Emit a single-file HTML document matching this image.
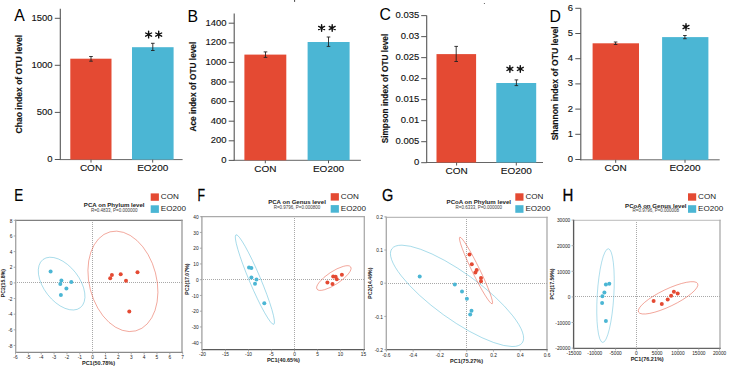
<!DOCTYPE html>
<html><head><meta charset="utf-8"><style>
html,body{margin:0;padding:0;background:#fff;}
svg{display:block;font-family:"Liberation Sans", sans-serif;}
</style></head><body>
<svg width="729" height="366" viewBox="0 0 729 366">
<rect width="729" height="366" fill="#fff"/>
<text x="14.20" y="21.30" font-size="15.8" text-anchor="start" font-weight="normal" fill="#000" >A</text>
<line x1="60.30" y1="8.70" x2="60.30" y2="160.10" stroke="#555" stroke-width="1.1" />
<line x1="59.80" y1="159.60" x2="182.60" y2="159.60" stroke="#666" stroke-width="1.0" />
<line x1="54.80" y1="159.50" x2="60.30" y2="159.50" stroke="#555" stroke-width="1" />
<text transform="translate(52.50,162.08) scale(1.1,1)" x="0" y="0" font-size="8.6" text-anchor="end" font-weight="normal" fill="#111" stroke="#111" stroke-width="0.12">0</text>
<line x1="54.80" y1="112.40" x2="60.30" y2="112.40" stroke="#555" stroke-width="1" />
<text transform="translate(52.50,114.98) scale(1.1,1)" x="0" y="0" font-size="8.6" text-anchor="end" font-weight="normal" fill="#111" stroke="#111" stroke-width="0.12">500</text>
<line x1="54.80" y1="65.30" x2="60.30" y2="65.30" stroke="#555" stroke-width="1" />
<text transform="translate(52.50,67.88) scale(1.1,1)" x="0" y="0" font-size="8.6" text-anchor="end" font-weight="normal" fill="#111" stroke="#111" stroke-width="0.12">1000</text>
<line x1="54.80" y1="18.30" x2="60.30" y2="18.30" stroke="#555" stroke-width="1" />
<text transform="translate(52.50,20.88) scale(1.1,1)" x="0" y="0" font-size="8.6" text-anchor="end" font-weight="normal" fill="#111" stroke="#111" stroke-width="0.12">1500</text>
<rect x="70.30" y="58.70" width="41.20" height="100.90" fill="#E44A33"/>
<rect x="132.00" y="47.20" width="41.60" height="112.40" fill="#4BB6D4"/>
<line x1="91.00" y1="56.50" x2="91.00" y2="61.20" stroke="#222" stroke-width="0.9" />
<line x1="89.20" y1="56.50" x2="92.80" y2="56.50" stroke="#222" stroke-width="0.9" />
<line x1="89.20" y1="61.20" x2="92.80" y2="61.20" stroke="#222" stroke-width="0.9" />
<line x1="152.80" y1="43.30" x2="152.80" y2="50.50" stroke="#222" stroke-width="0.9" />
<line x1="151.00" y1="43.30" x2="154.60" y2="43.30" stroke="#222" stroke-width="0.9" />
<line x1="151.00" y1="50.50" x2="154.60" y2="50.50" stroke="#222" stroke-width="0.9" />
<line x1="91.00" y1="159.60" x2="91.00" y2="162.60" stroke="#555" stroke-width="1" />
<text transform="translate(91.00,171.30) scale(1.1,1)" x="0" y="0" font-size="9.1" text-anchor="middle" font-weight="normal" fill="#111" stroke="#111" stroke-width="0.12">CON</text>
<line x1="152.70" y1="159.60" x2="152.70" y2="162.60" stroke="#555" stroke-width="1" />
<text transform="translate(152.70,171.30) scale(1.1,1)" x="0" y="0" font-size="9.1" text-anchor="middle" font-weight="normal" fill="#111" stroke="#111" stroke-width="0.12">EO200</text>
<path d="M148.60 31.30V37.90M145.65 33.00L151.55 36.20M145.65 36.20L151.55 33.00" stroke="#111" stroke-width="1.4" stroke-linecap="round" fill="none"/>
<circle cx="148.60" cy="34.60" r="1.4" fill="#111"/>
<path d="M158.70 31.30V37.90M155.75 33.00L161.65 36.20M155.75 36.20L161.65 33.00" stroke="#111" stroke-width="1.4" stroke-linecap="round" fill="none"/>
<circle cx="158.70" cy="34.60" r="1.4" fill="#111"/>
<text transform="translate(22.30,84.15) rotate(-90) scale(1,1.05)" x="0" y="0" font-size="8.6" text-anchor="middle" font-weight="bold" fill="#111" stroke="#111" stroke-width="0.12">Chao index of OTU level</text>
<text x="187.40" y="21.90" font-size="15.8" text-anchor="start" font-weight="normal" fill="#000" >B</text>
<line x1="234.20" y1="13.50" x2="234.20" y2="160.80" stroke="#555" stroke-width="1.1" />
<line x1="233.70" y1="160.30" x2="360.90" y2="160.30" stroke="#666" stroke-width="1.0" />
<line x1="228.70" y1="160.40" x2="234.20" y2="160.40" stroke="#555" stroke-width="1" />
<text transform="translate(226.50,162.98) scale(1.1,1)" x="0" y="0" font-size="8.6" text-anchor="end" font-weight="normal" fill="#111" stroke="#111" stroke-width="0.12">0</text>
<line x1="228.70" y1="140.80" x2="234.20" y2="140.80" stroke="#555" stroke-width="1" />
<text transform="translate(226.50,143.38) scale(1.1,1)" x="0" y="0" font-size="8.6" text-anchor="end" font-weight="normal" fill="#111" stroke="#111" stroke-width="0.12">200</text>
<line x1="228.70" y1="121.20" x2="234.20" y2="121.20" stroke="#555" stroke-width="1" />
<text transform="translate(226.50,123.78) scale(1.1,1)" x="0" y="0" font-size="8.6" text-anchor="end" font-weight="normal" fill="#111" stroke="#111" stroke-width="0.12">400</text>
<line x1="228.70" y1="101.60" x2="234.20" y2="101.60" stroke="#555" stroke-width="1" />
<text transform="translate(226.50,104.18) scale(1.1,1)" x="0" y="0" font-size="8.6" text-anchor="end" font-weight="normal" fill="#111" stroke="#111" stroke-width="0.12">600</text>
<line x1="228.70" y1="82.00" x2="234.20" y2="82.00" stroke="#555" stroke-width="1" />
<text transform="translate(226.50,84.58) scale(1.1,1)" x="0" y="0" font-size="8.6" text-anchor="end" font-weight="normal" fill="#111" stroke="#111" stroke-width="0.12">800</text>
<line x1="228.70" y1="62.40" x2="234.20" y2="62.40" stroke="#555" stroke-width="1" />
<text transform="translate(226.50,64.98) scale(1.1,1)" x="0" y="0" font-size="8.6" text-anchor="end" font-weight="normal" fill="#111" stroke="#111" stroke-width="0.12">1000</text>
<line x1="228.70" y1="42.80" x2="234.20" y2="42.80" stroke="#555" stroke-width="1" />
<text transform="translate(226.50,45.38) scale(1.1,1)" x="0" y="0" font-size="8.6" text-anchor="end" font-weight="normal" fill="#111" stroke="#111" stroke-width="0.12">1200</text>
<line x1="228.70" y1="23.20" x2="234.20" y2="23.20" stroke="#555" stroke-width="1" />
<text transform="translate(226.50,25.78) scale(1.1,1)" x="0" y="0" font-size="8.6" text-anchor="end" font-weight="normal" fill="#111" stroke="#111" stroke-width="0.12">1400</text>
<rect x="244.40" y="54.60" width="41.90" height="105.70" fill="#E44A33"/>
<rect x="307.60" y="42.00" width="42.00" height="118.30" fill="#4BB6D4"/>
<line x1="265.50" y1="51.90" x2="265.50" y2="57.40" stroke="#222" stroke-width="0.9" />
<line x1="263.70" y1="51.90" x2="267.30" y2="51.90" stroke="#222" stroke-width="0.9" />
<line x1="263.70" y1="57.40" x2="267.30" y2="57.40" stroke="#222" stroke-width="0.9" />
<line x1="328.50" y1="37.00" x2="328.50" y2="46.40" stroke="#222" stroke-width="0.9" />
<line x1="326.70" y1="37.00" x2="330.30" y2="37.00" stroke="#222" stroke-width="0.9" />
<line x1="326.70" y1="46.40" x2="330.30" y2="46.40" stroke="#222" stroke-width="0.9" />
<line x1="265.30" y1="160.30" x2="265.30" y2="163.30" stroke="#555" stroke-width="1" />
<text transform="translate(265.30,171.60) scale(1.1,1)" x="0" y="0" font-size="9.1" text-anchor="middle" font-weight="normal" fill="#111" stroke="#111" stroke-width="0.12">CON</text>
<line x1="328.50" y1="160.30" x2="328.50" y2="163.30" stroke="#555" stroke-width="1" />
<text transform="translate(328.50,171.60) scale(1.1,1)" x="0" y="0" font-size="9.1" text-anchor="middle" font-weight="normal" fill="#111" stroke="#111" stroke-width="0.12">EO200</text>
<path d="M321.60 24.70V31.30M318.65 26.40L324.55 29.60M318.65 29.60L324.55 26.40" stroke="#111" stroke-width="1.4" stroke-linecap="round" fill="none"/>
<circle cx="321.60" cy="28.00" r="1.4" fill="#111"/>
<path d="M332.20 24.70V31.30M329.25 26.40L335.15 29.60M329.25 29.60L335.15 26.40" stroke="#111" stroke-width="1.4" stroke-linecap="round" fill="none"/>
<circle cx="332.20" cy="28.00" r="1.4" fill="#111"/>
<text transform="translate(195.80,86.65) rotate(-90) scale(1,1.05)" x="0" y="0" font-size="8.3" text-anchor="middle" font-weight="bold" fill="#111" stroke="#111" stroke-width="0.12">Ace index of OTU level</text>
<text x="379.40" y="19.90" font-size="15.8" text-anchor="start" font-weight="normal" fill="#000" >C</text>
<line x1="426.70" y1="15.60" x2="426.70" y2="163.00" stroke="#555" stroke-width="1.1" />
<line x1="426.20" y1="162.50" x2="543.00" y2="162.50" stroke="#666" stroke-width="1.0" />
<line x1="421.20" y1="162.70" x2="426.70" y2="162.70" stroke="#555" stroke-width="1" />
<text transform="translate(419.20,165.28) scale(1.1,1)" x="0" y="0" font-size="8.6" text-anchor="end" font-weight="normal" fill="#111" stroke="#111" stroke-width="0.12">0</text>
<line x1="421.20" y1="141.69" x2="426.70" y2="141.69" stroke="#555" stroke-width="1" />
<text transform="translate(419.20,144.27) scale(1.1,1)" x="0" y="0" font-size="8.6" text-anchor="end" font-weight="normal" fill="#111" stroke="#111" stroke-width="0.12">0.005</text>
<line x1="421.20" y1="120.68" x2="426.70" y2="120.68" stroke="#555" stroke-width="1" />
<text transform="translate(419.20,123.26) scale(1.1,1)" x="0" y="0" font-size="8.6" text-anchor="end" font-weight="normal" fill="#111" stroke="#111" stroke-width="0.12">0.01</text>
<line x1="421.20" y1="99.67" x2="426.70" y2="99.67" stroke="#555" stroke-width="1" />
<text transform="translate(419.20,102.25) scale(1.1,1)" x="0" y="0" font-size="8.6" text-anchor="end" font-weight="normal" fill="#111" stroke="#111" stroke-width="0.12">0.015</text>
<line x1="421.20" y1="78.66" x2="426.70" y2="78.66" stroke="#555" stroke-width="1" />
<text transform="translate(419.20,81.24) scale(1.1,1)" x="0" y="0" font-size="8.6" text-anchor="end" font-weight="normal" fill="#111" stroke="#111" stroke-width="0.12">0.02</text>
<line x1="421.20" y1="57.65" x2="426.70" y2="57.65" stroke="#555" stroke-width="1" />
<text transform="translate(419.20,60.23) scale(1.1,1)" x="0" y="0" font-size="8.6" text-anchor="end" font-weight="normal" fill="#111" stroke="#111" stroke-width="0.12">0.025</text>
<line x1="421.20" y1="36.64" x2="426.70" y2="36.64" stroke="#555" stroke-width="1" />
<text transform="translate(419.20,39.22) scale(1.1,1)" x="0" y="0" font-size="8.6" text-anchor="end" font-weight="normal" fill="#111" stroke="#111" stroke-width="0.12">0.03</text>
<line x1="421.20" y1="15.63" x2="426.70" y2="15.63" stroke="#555" stroke-width="1" />
<text transform="translate(419.20,18.21) scale(1.1,1)" x="0" y="0" font-size="8.6" text-anchor="end" font-weight="normal" fill="#111" stroke="#111" stroke-width="0.12">0.035</text>
<rect x="436.50" y="54.10" width="39.60" height="108.40" fill="#E44A33"/>
<rect x="496.30" y="83.00" width="39.90" height="79.50" fill="#4BB6D4"/>
<line x1="456.20" y1="46.40" x2="456.20" y2="61.50" stroke="#222" stroke-width="0.9" />
<line x1="454.40" y1="46.40" x2="458.00" y2="46.40" stroke="#222" stroke-width="0.9" />
<line x1="454.40" y1="61.50" x2="458.00" y2="61.50" stroke="#222" stroke-width="0.9" />
<line x1="516.40" y1="79.90" x2="516.40" y2="85.60" stroke="#222" stroke-width="0.9" />
<line x1="514.60" y1="79.90" x2="518.20" y2="79.90" stroke="#222" stroke-width="0.9" />
<line x1="514.60" y1="85.60" x2="518.20" y2="85.60" stroke="#222" stroke-width="0.9" />
<line x1="456.60" y1="162.50" x2="456.60" y2="165.50" stroke="#555" stroke-width="1" />
<text transform="translate(456.60,174.30) scale(1.1,1)" x="0" y="0" font-size="9.1" text-anchor="middle" font-weight="normal" fill="#111" stroke="#111" stroke-width="0.12">CON</text>
<line x1="516.30" y1="162.50" x2="516.30" y2="165.50" stroke="#555" stroke-width="1" />
<text transform="translate(516.30,174.30) scale(1.1,1)" x="0" y="0" font-size="9.1" text-anchor="middle" font-weight="normal" fill="#111" stroke="#111" stroke-width="0.12">EO200</text>
<path d="M509.90 65.60V72.20M506.95 67.30L512.85 70.50M506.95 70.50L512.85 67.30" stroke="#111" stroke-width="1.4" stroke-linecap="round" fill="none"/>
<circle cx="509.90" cy="68.90" r="1.4" fill="#111"/>
<path d="M520.30 65.60V72.20M517.35 67.30L523.25 70.50M517.35 70.50L523.25 67.30" stroke="#111" stroke-width="1.4" stroke-linecap="round" fill="none"/>
<circle cx="520.30" cy="68.90" r="1.4" fill="#111"/>
<text transform="translate(387.80,88.55) rotate(-90) scale(1,1.05)" x="0" y="0" font-size="8.3" text-anchor="middle" font-weight="bold" fill="#111" stroke="#111" stroke-width="0.12">Simpson index of OTU level</text>
<text x="549.60" y="21.90" font-size="15.8" text-anchor="start" font-weight="normal" fill="#000" >D</text>
<line x1="580.80" y1="8.20" x2="580.80" y2="160.30" stroke="#555" stroke-width="1.1" />
<line x1="580.30" y1="159.80" x2="719.70" y2="159.80" stroke="#666" stroke-width="1.0" />
<line x1="575.30" y1="159.50" x2="580.80" y2="159.50" stroke="#555" stroke-width="1" />
<text transform="translate(573.00,162.08) scale(1.1,1)" x="0" y="0" font-size="8.6" text-anchor="end" font-weight="normal" fill="#111" stroke="#111" stroke-width="0.12">0</text>
<line x1="575.30" y1="134.30" x2="580.80" y2="134.30" stroke="#555" stroke-width="1" />
<text transform="translate(573.00,136.88) scale(1.1,1)" x="0" y="0" font-size="8.6" text-anchor="end" font-weight="normal" fill="#111" stroke="#111" stroke-width="0.12">1</text>
<line x1="575.30" y1="109.10" x2="580.80" y2="109.10" stroke="#555" stroke-width="1" />
<text transform="translate(573.00,111.68) scale(1.1,1)" x="0" y="0" font-size="8.6" text-anchor="end" font-weight="normal" fill="#111" stroke="#111" stroke-width="0.12">2</text>
<line x1="575.30" y1="83.90" x2="580.80" y2="83.90" stroke="#555" stroke-width="1" />
<text transform="translate(573.00,86.48) scale(1.1,1)" x="0" y="0" font-size="8.6" text-anchor="end" font-weight="normal" fill="#111" stroke="#111" stroke-width="0.12">3</text>
<line x1="575.30" y1="58.70" x2="580.80" y2="58.70" stroke="#555" stroke-width="1" />
<text transform="translate(573.00,61.28) scale(1.1,1)" x="0" y="0" font-size="8.6" text-anchor="end" font-weight="normal" fill="#111" stroke="#111" stroke-width="0.12">4</text>
<line x1="575.30" y1="33.50" x2="580.80" y2="33.50" stroke="#555" stroke-width="1" />
<text transform="translate(573.00,36.08) scale(1.1,1)" x="0" y="0" font-size="8.6" text-anchor="end" font-weight="normal" fill="#111" stroke="#111" stroke-width="0.12">5</text>
<line x1="575.30" y1="8.30" x2="580.80" y2="8.30" stroke="#555" stroke-width="1" />
<text transform="translate(573.00,10.88) scale(1.1,1)" x="0" y="0" font-size="8.6" text-anchor="end" font-weight="normal" fill="#111" stroke="#111" stroke-width="0.12">6</text>
<rect x="592.60" y="43.30" width="46.40" height="116.50" fill="#E44A33"/>
<rect x="662.10" y="37.10" width="46.30" height="122.70" fill="#4BB6D4"/>
<line x1="615.60" y1="42.00" x2="615.60" y2="44.50" stroke="#222" stroke-width="0.9" />
<line x1="613.80" y1="42.00" x2="617.40" y2="42.00" stroke="#222" stroke-width="0.9" />
<line x1="613.80" y1="44.50" x2="617.40" y2="44.50" stroke="#222" stroke-width="0.9" />
<line x1="684.90" y1="35.50" x2="684.90" y2="38.70" stroke="#222" stroke-width="0.9" />
<line x1="683.10" y1="35.50" x2="686.70" y2="35.50" stroke="#222" stroke-width="0.9" />
<line x1="683.10" y1="38.70" x2="686.70" y2="38.70" stroke="#222" stroke-width="0.9" />
<line x1="615.70" y1="159.80" x2="615.70" y2="162.80" stroke="#555" stroke-width="1" />
<text transform="translate(615.70,171.30) scale(1.1,1)" x="0" y="0" font-size="9.1" text-anchor="middle" font-weight="normal" fill="#111" stroke="#111" stroke-width="0.12">CON</text>
<line x1="685.00" y1="159.80" x2="685.00" y2="162.80" stroke="#555" stroke-width="1" />
<text transform="translate(685.00,171.30) scale(1.1,1)" x="0" y="0" font-size="9.1" text-anchor="middle" font-weight="normal" fill="#111" stroke="#111" stroke-width="0.12">EO200</text>
<path d="M686.00 23.70V30.30M683.05 25.40L688.95 28.60M683.05 28.60L688.95 25.40" stroke="#111" stroke-width="1.4" stroke-linecap="round" fill="none"/>
<circle cx="686.00" cy="27.00" r="1.4" fill="#111"/>
<text transform="translate(558.20,83.40) rotate(-90) scale(1,1.05)" x="0" y="0" font-size="8.6" text-anchor="middle" font-weight="bold" fill="#111" stroke="#111" stroke-width="0.12">Shannon index of OTU level</text>
<text transform="translate(14.20,201.00) scale(0.85,1)" x="0" y="0" font-size="15.8" text-anchor="start" font-weight="normal" fill="#000" stroke="#000" stroke-width="0.25">E</text>
<line x1="92.50" y1="220.00" x2="92.50" y2="352.40" stroke="#a8a8a8" stroke-width="1" stroke-dasharray="1 1"/>
<line x1="15.00" y1="282.50" x2="182.00" y2="282.50" stroke="#a8a8a8" stroke-width="1" stroke-dasharray="1 1"/>
<line x1="15.10" y1="220.30" x2="182.60" y2="220.30" stroke="#808080" stroke-width="1.3" />
<line x1="182.00" y1="219.70" x2="182.00" y2="353.00" stroke="#999" stroke-width="1.3" />
<line x1="15.10" y1="352.40" x2="182.60" y2="352.40" stroke="#8a8a8a" stroke-width="1.25" />
<line x1="15.70" y1="219.70" x2="15.70" y2="353.00" stroke="#a4a4a4" stroke-width="1.35" />
<line x1="13.70" y1="220.34" x2="15.70" y2="220.34" stroke="#999" stroke-width="0.8" />
<text x="12.40" y="222.54" font-size="4.8" text-anchor="end" font-weight="normal" fill="#222" >8</text>
<line x1="13.70" y1="235.98" x2="15.70" y2="235.98" stroke="#999" stroke-width="0.8" />
<text x="12.40" y="238.18" font-size="4.8" text-anchor="end" font-weight="normal" fill="#222" >6</text>
<line x1="13.70" y1="251.62" x2="15.70" y2="251.62" stroke="#999" stroke-width="0.8" />
<text x="12.40" y="253.82" font-size="4.8" text-anchor="end" font-weight="normal" fill="#222" >4</text>
<line x1="13.70" y1="267.26" x2="15.70" y2="267.26" stroke="#999" stroke-width="0.8" />
<text x="12.40" y="269.46" font-size="4.8" text-anchor="end" font-weight="normal" fill="#222" >2</text>
<line x1="13.70" y1="282.90" x2="15.70" y2="282.90" stroke="#999" stroke-width="0.8" />
<text x="12.40" y="285.10" font-size="4.8" text-anchor="end" font-weight="normal" fill="#222" >0</text>
<line x1="13.70" y1="298.54" x2="15.70" y2="298.54" stroke="#999" stroke-width="0.8" />
<text x="12.40" y="300.74" font-size="4.8" text-anchor="end" font-weight="normal" fill="#222" >-2</text>
<line x1="13.70" y1="314.18" x2="15.70" y2="314.18" stroke="#999" stroke-width="0.8" />
<text x="12.40" y="316.38" font-size="4.8" text-anchor="end" font-weight="normal" fill="#222" >-4</text>
<line x1="13.70" y1="329.82" x2="15.70" y2="329.82" stroke="#999" stroke-width="0.8" />
<text x="12.40" y="332.02" font-size="4.8" text-anchor="end" font-weight="normal" fill="#222" >-6</text>
<line x1="13.70" y1="345.46" x2="15.70" y2="345.46" stroke="#999" stroke-width="0.8" />
<text x="12.40" y="347.66" font-size="4.8" text-anchor="end" font-weight="normal" fill="#222" >-8</text>
<line x1="15.50" y1="352.40" x2="15.50" y2="354.40" stroke="#999" stroke-width="0.8" />
<text x="15.50" y="359.20" font-size="4.8" text-anchor="middle" font-weight="normal" fill="#222" >-6</text>
<line x1="28.36" y1="352.40" x2="28.36" y2="354.40" stroke="#999" stroke-width="0.8" />
<text x="28.36" y="359.20" font-size="4.8" text-anchor="middle" font-weight="normal" fill="#222" >-5</text>
<line x1="41.22" y1="352.40" x2="41.22" y2="354.40" stroke="#999" stroke-width="0.8" />
<text x="41.22" y="359.20" font-size="4.8" text-anchor="middle" font-weight="normal" fill="#222" >-4</text>
<line x1="54.08" y1="352.40" x2="54.08" y2="354.40" stroke="#999" stroke-width="0.8" />
<text x="54.08" y="359.20" font-size="4.8" text-anchor="middle" font-weight="normal" fill="#222" >-3</text>
<line x1="66.94" y1="352.40" x2="66.94" y2="354.40" stroke="#999" stroke-width="0.8" />
<text x="66.94" y="359.20" font-size="4.8" text-anchor="middle" font-weight="normal" fill="#222" >-2</text>
<line x1="79.80" y1="352.40" x2="79.80" y2="354.40" stroke="#999" stroke-width="0.8" />
<text x="79.80" y="359.20" font-size="4.8" text-anchor="middle" font-weight="normal" fill="#222" >-1</text>
<line x1="92.66" y1="352.40" x2="92.66" y2="354.40" stroke="#999" stroke-width="0.8" />
<text x="92.66" y="359.20" font-size="4.8" text-anchor="middle" font-weight="normal" fill="#222" >0</text>
<line x1="105.52" y1="352.40" x2="105.52" y2="354.40" stroke="#999" stroke-width="0.8" />
<text x="105.52" y="359.20" font-size="4.8" text-anchor="middle" font-weight="normal" fill="#222" >1</text>
<line x1="118.38" y1="352.40" x2="118.38" y2="354.40" stroke="#999" stroke-width="0.8" />
<text x="118.38" y="359.20" font-size="4.8" text-anchor="middle" font-weight="normal" fill="#222" >2</text>
<line x1="131.24" y1="352.40" x2="131.24" y2="354.40" stroke="#999" stroke-width="0.8" />
<text x="131.24" y="359.20" font-size="4.8" text-anchor="middle" font-weight="normal" fill="#222" >3</text>
<line x1="144.10" y1="352.40" x2="144.10" y2="354.40" stroke="#999" stroke-width="0.8" />
<text x="144.10" y="359.20" font-size="4.8" text-anchor="middle" font-weight="normal" fill="#222" >4</text>
<line x1="156.96" y1="352.40" x2="156.96" y2="354.40" stroke="#999" stroke-width="0.8" />
<text x="156.96" y="359.20" font-size="4.8" text-anchor="middle" font-weight="normal" fill="#222" >5</text>
<line x1="169.82" y1="352.40" x2="169.82" y2="354.40" stroke="#999" stroke-width="0.8" />
<text x="169.82" y="359.20" font-size="4.8" text-anchor="middle" font-weight="normal" fill="#222" >6</text>
<line x1="182.68" y1="352.40" x2="182.68" y2="354.40" stroke="#999" stroke-width="0.8" />
<text x="182.68" y="359.20" font-size="4.8" text-anchor="middle" font-weight="normal" fill="#222" >7</text>
<ellipse cx="61.62" cy="283.62" rx="30.45" ry="17.73" transform="rotate(52.15 61.62 283.62)" fill="none" stroke="#4BB6D4" stroke-width="0.55" stroke-opacity="0.8"/>
<ellipse cx="122.92" cy="281.35" rx="51.16" ry="33.63" transform="rotate(75.43 122.92 281.35)" fill="none" stroke="#E44A33" stroke-width="0.55" stroke-opacity="0.8"/>
<circle cx="111.90" cy="274.90" r="2" fill="#E44A33"/>
<circle cx="110.20" cy="278.20" r="2" fill="#E44A33"/>
<circle cx="120.70" cy="274.30" r="2" fill="#E44A33"/>
<circle cx="126.00" cy="280.80" r="2" fill="#E44A33"/>
<circle cx="137.50" cy="272.30" r="2" fill="#E44A33"/>
<circle cx="129.30" cy="311.40" r="2" fill="#E44A33"/>
<circle cx="50.60" cy="271.60" r="2" fill="#4BB6D4"/>
<circle cx="61.40" cy="280.60" r="2" fill="#4BB6D4"/>
<circle cx="60.30" cy="284.00" r="2" fill="#4BB6D4"/>
<circle cx="71.30" cy="282.00" r="2" fill="#4BB6D4"/>
<circle cx="66.40" cy="288.40" r="2" fill="#4BB6D4"/>
<circle cx="60.90" cy="295.10" r="2" fill="#4BB6D4"/>
<text x="114.20" y="207.10" font-size="6.1" text-anchor="middle" font-weight="bold" fill="#222" >PCA on Phylum level</text>
<text x="114.20" y="212.30" font-size="4.5" text-anchor="middle" font-weight="normal" fill="#3a3a3a" >R=0.4833, P=0.000000</text>
<rect x="150.70" y="193.40" width="8.20" height="7.40" fill="#E44A33"/>
<rect x="150.70" y="205.30" width="8.20" height="7.60" fill="#4BB6D4"/>
<text x="160.80" y="199.40" font-size="8.1" text-anchor="start" font-weight="normal" fill="#222" >CON</text>
<text x="160.80" y="211.40" font-size="8.1" text-anchor="start" font-weight="normal" fill="#222" >EO200</text>
<text x="98.50" y="365.10" font-size="5.5" text-anchor="middle" font-weight="bold" fill="#222" >PC1(50.78%)</text>
<text transform="translate(5.20,283.10) rotate(-90)" x="0" y="0" font-size="5.2" text-anchor="middle" font-weight="bold" fill="#222">PC2(15.8%)</text>
<text transform="translate(197.60,200.90) scale(0.78,1)" x="0" y="0" font-size="15.8" text-anchor="start" font-weight="normal" fill="#000" stroke="#000" stroke-width="0.25">F</text>
<line x1="294.50" y1="216.00" x2="294.50" y2="349.50" stroke="#a8a8a8" stroke-width="1" stroke-dasharray="1 1"/>
<line x1="201.00" y1="279.50" x2="364.30" y2="279.50" stroke="#a8a8a8" stroke-width="1" stroke-dasharray="1 1"/>
<line x1="201.30" y1="216.70" x2="364.90" y2="216.70" stroke="#aaa" stroke-width="1.3" />
<line x1="364.30" y1="216.10" x2="364.30" y2="350.10" stroke="#aaa" stroke-width="1.3" />
<line x1="201.30" y1="349.50" x2="364.90" y2="349.50" stroke="#5a5a5a" stroke-width="1.25" />
<line x1="201.90" y1="216.10" x2="201.90" y2="350.10" stroke="#a4a4a4" stroke-width="1.35" />
<line x1="199.90" y1="216.70" x2="201.90" y2="216.70" stroke="#999" stroke-width="0.8" />
<text x="198.60" y="218.90" font-size="4.8" text-anchor="end" font-weight="normal" fill="#222" >40</text>
<line x1="199.90" y1="232.45" x2="201.90" y2="232.45" stroke="#999" stroke-width="0.8" />
<text x="198.60" y="234.65" font-size="4.8" text-anchor="end" font-weight="normal" fill="#222" >30</text>
<line x1="199.90" y1="248.20" x2="201.90" y2="248.20" stroke="#999" stroke-width="0.8" />
<text x="198.60" y="250.40" font-size="4.8" text-anchor="end" font-weight="normal" fill="#222" >20</text>
<line x1="199.90" y1="263.95" x2="201.90" y2="263.95" stroke="#999" stroke-width="0.8" />
<text x="198.60" y="266.15" font-size="4.8" text-anchor="end" font-weight="normal" fill="#222" >10</text>
<line x1="199.90" y1="279.70" x2="201.90" y2="279.70" stroke="#999" stroke-width="0.8" />
<text x="198.60" y="281.90" font-size="4.8" text-anchor="end" font-weight="normal" fill="#222" >0</text>
<line x1="199.90" y1="295.45" x2="201.90" y2="295.45" stroke="#999" stroke-width="0.8" />
<text x="198.60" y="297.65" font-size="4.8" text-anchor="end" font-weight="normal" fill="#222" >-10</text>
<line x1="199.90" y1="311.20" x2="201.90" y2="311.20" stroke="#999" stroke-width="0.8" />
<text x="198.60" y="313.40" font-size="4.8" text-anchor="end" font-weight="normal" fill="#222" >-20</text>
<line x1="199.90" y1="326.95" x2="201.90" y2="326.95" stroke="#999" stroke-width="0.8" />
<text x="198.60" y="329.15" font-size="4.8" text-anchor="end" font-weight="normal" fill="#222" >-30</text>
<line x1="199.90" y1="342.70" x2="201.90" y2="342.70" stroke="#999" stroke-width="0.8" />
<text x="198.60" y="344.90" font-size="4.8" text-anchor="end" font-weight="normal" fill="#222" >-40</text>
<line x1="202.50" y1="349.50" x2="202.50" y2="351.50" stroke="#999" stroke-width="0.8" />
<text x="202.50" y="356.30" font-size="4.8" text-anchor="middle" font-weight="normal" fill="#222" >-20</text>
<line x1="225.50" y1="349.50" x2="225.50" y2="351.50" stroke="#999" stroke-width="0.8" />
<text x="225.50" y="356.30" font-size="4.8" text-anchor="middle" font-weight="normal" fill="#222" >-15</text>
<line x1="248.50" y1="349.50" x2="248.50" y2="351.50" stroke="#999" stroke-width="0.8" />
<text x="248.50" y="356.30" font-size="4.8" text-anchor="middle" font-weight="normal" fill="#222" >-10</text>
<line x1="271.50" y1="349.50" x2="271.50" y2="351.50" stroke="#999" stroke-width="0.8" />
<text x="271.50" y="356.30" font-size="4.8" text-anchor="middle" font-weight="normal" fill="#222" >-5</text>
<line x1="294.50" y1="349.50" x2="294.50" y2="351.50" stroke="#999" stroke-width="0.8" />
<text x="294.50" y="356.30" font-size="4.8" text-anchor="middle" font-weight="normal" fill="#222" >0</text>
<line x1="317.50" y1="349.50" x2="317.50" y2="351.50" stroke="#999" stroke-width="0.8" />
<text x="317.50" y="356.30" font-size="4.8" text-anchor="middle" font-weight="normal" fill="#222" >5</text>
<line x1="340.50" y1="349.50" x2="340.50" y2="351.50" stroke="#999" stroke-width="0.8" />
<text x="340.50" y="356.30" font-size="4.8" text-anchor="middle" font-weight="normal" fill="#222" >10</text>
<line x1="363.50" y1="349.50" x2="363.50" y2="351.50" stroke="#999" stroke-width="0.8" />
<text x="363.50" y="356.30" font-size="4.8" text-anchor="middle" font-weight="normal" fill="#222" >15</text>
<ellipse cx="254.89" cy="279.55" rx="48.60" ry="5.60" transform="rotate(67.10 254.89 279.55)" fill="none" stroke="#4BB6D4" stroke-width="0.55" stroke-opacity="0.8"/>
<ellipse cx="333.84" cy="278.05" rx="20.17" ry="6.47" transform="rotate(-33.40 333.84 278.05)" fill="none" stroke="#E44A33" stroke-width="0.55" stroke-opacity="0.8"/>
<circle cx="333.20" cy="276.50" r="2" fill="#E44A33"/>
<circle cx="335.60" cy="276.80" r="2" fill="#E44A33"/>
<circle cx="341.90" cy="274.70" r="2" fill="#E44A33"/>
<circle cx="336.80" cy="279.20" r="2" fill="#E44A33"/>
<circle cx="327.40" cy="282.60" r="2" fill="#E44A33"/>
<circle cx="332.50" cy="284.10" r="2" fill="#E44A33"/>
<circle cx="249.00" cy="267.60" r="2" fill="#4BB6D4"/>
<circle cx="251.40" cy="267.90" r="2" fill="#4BB6D4"/>
<circle cx="251.40" cy="277.50" r="2" fill="#4BB6D4"/>
<circle cx="256.50" cy="279.60" r="2" fill="#4BB6D4"/>
<circle cx="255.00" cy="283.80" r="2" fill="#4BB6D4"/>
<circle cx="264.30" cy="303.30" r="2" fill="#4BB6D4"/>
<text x="297.00" y="203.60" font-size="6.1" text-anchor="middle" font-weight="bold" fill="#222" >PCA on Genus level</text>
<text x="297.00" y="208.50" font-size="4.5" text-anchor="middle" font-weight="normal" fill="#3a3a3a" >R=0.9796, P=0.000800</text>
<rect x="330.70" y="193.20" width="8.20" height="7.40" fill="#E44A33"/>
<rect x="330.70" y="205.10" width="8.20" height="7.60" fill="#4BB6D4"/>
<text x="340.80" y="199.20" font-size="8.1" text-anchor="start" font-weight="normal" fill="#222" >CON</text>
<text x="340.80" y="211.20" font-size="8.1" text-anchor="start" font-weight="normal" fill="#222" >EO200</text>
<text x="283.40" y="361.80" font-size="5.5" text-anchor="middle" font-weight="bold" fill="#222" >PC1(40.65%)</text>
<text transform="translate(189.30,279.10) rotate(-90)" x="0" y="0" font-size="5.2" text-anchor="middle" font-weight="bold" fill="#222">PC2(17.07%)</text>
<text transform="translate(382.00,201.00) scale(0.92,1)" x="0" y="0" font-size="15.8" text-anchor="start" font-weight="normal" fill="#000" stroke="#000" stroke-width="0.25">G</text>
<line x1="466.50" y1="217.00" x2="466.50" y2="349.70" stroke="#a8a8a8" stroke-width="1" stroke-dasharray="1 1"/>
<line x1="386.00" y1="283.50" x2="547.00" y2="283.50" stroke="#a8a8a8" stroke-width="1" stroke-dasharray="1 1"/>
<line x1="385.70" y1="217.40" x2="547.60" y2="217.40" stroke="#bbb" stroke-width="1.3" />
<line x1="547.00" y1="216.80" x2="547.00" y2="350.30" stroke="#aaa" stroke-width="1.3" />
<line x1="385.70" y1="349.70" x2="547.60" y2="349.70" stroke="#666" stroke-width="1.25" />
<line x1="386.30" y1="216.80" x2="386.30" y2="350.30" stroke="#aaa" stroke-width="1.35" />
<line x1="384.30" y1="216.80" x2="386.30" y2="216.80" stroke="#999" stroke-width="0.8" />
<text x="383.00" y="219.00" font-size="4.8" text-anchor="end" font-weight="normal" fill="#222" >0.2</text>
<line x1="384.30" y1="250.00" x2="386.30" y2="250.00" stroke="#999" stroke-width="0.8" />
<text x="383.00" y="252.20" font-size="4.8" text-anchor="end" font-weight="normal" fill="#222" >0.1</text>
<line x1="384.30" y1="283.20" x2="386.30" y2="283.20" stroke="#999" stroke-width="0.8" />
<text x="383.00" y="285.40" font-size="4.8" text-anchor="end" font-weight="normal" fill="#222" >0</text>
<line x1="384.30" y1="316.40" x2="386.30" y2="316.40" stroke="#999" stroke-width="0.8" />
<text x="383.00" y="318.60" font-size="4.8" text-anchor="end" font-weight="normal" fill="#222" >-0.1</text>
<line x1="384.30" y1="349.60" x2="386.30" y2="349.60" stroke="#999" stroke-width="0.8" />
<text x="383.00" y="351.80" font-size="4.8" text-anchor="end" font-weight="normal" fill="#222" >-0.2</text>
<line x1="386.36" y1="349.70" x2="386.36" y2="351.70" stroke="#999" stroke-width="0.8" />
<text x="386.36" y="356.50" font-size="4.8" text-anchor="middle" font-weight="normal" fill="#222" >-0.6</text>
<line x1="413.14" y1="349.70" x2="413.14" y2="351.70" stroke="#999" stroke-width="0.8" />
<text x="413.14" y="356.50" font-size="4.8" text-anchor="middle" font-weight="normal" fill="#222" >-0.4</text>
<line x1="439.92" y1="349.70" x2="439.92" y2="351.70" stroke="#999" stroke-width="0.8" />
<text x="439.92" y="356.50" font-size="4.8" text-anchor="middle" font-weight="normal" fill="#222" >-0.2</text>
<line x1="466.70" y1="349.70" x2="466.70" y2="351.70" stroke="#999" stroke-width="0.8" />
<text x="466.70" y="356.50" font-size="4.8" text-anchor="middle" font-weight="normal" fill="#222" >0</text>
<line x1="493.48" y1="349.70" x2="493.48" y2="351.70" stroke="#999" stroke-width="0.8" />
<text x="493.48" y="356.50" font-size="4.8" text-anchor="middle" font-weight="normal" fill="#222" >0.2</text>
<line x1="520.26" y1="349.70" x2="520.26" y2="351.70" stroke="#999" stroke-width="0.8" />
<text x="520.26" y="356.50" font-size="4.8" text-anchor="middle" font-weight="normal" fill="#222" >0.4</text>
<line x1="547.04" y1="349.70" x2="547.04" y2="351.70" stroke="#999" stroke-width="0.8" />
<text x="547.04" y="356.50" font-size="4.8" text-anchor="middle" font-weight="normal" fill="#222" >0.6</text>
<ellipse cx="457.03" cy="295.86" rx="80.38" ry="23.26" transform="rotate(35.82 457.03 295.86)" fill="none" stroke="#4BB6D4" stroke-width="0.55" stroke-opacity="0.8"/>
<ellipse cx="476.00" cy="270.50" rx="37.00" ry="3.80" transform="rotate(64.00 476.00 270.50)" fill="none" stroke="#E44A33" stroke-width="0.55" stroke-opacity="0.8"/>
<circle cx="469.50" cy="254.50" r="2" fill="#E44A33"/>
<circle cx="471.80" cy="264.30" r="2" fill="#E44A33"/>
<circle cx="476.70" cy="269.90" r="2" fill="#E44A33"/>
<circle cx="475.40" cy="272.50" r="2" fill="#E44A33"/>
<circle cx="481.00" cy="278.10" r="2" fill="#E44A33"/>
<circle cx="481.00" cy="281.30" r="2" fill="#E44A33"/>
<circle cx="419.70" cy="276.40" r="2" fill="#4BB6D4"/>
<circle cx="454.80" cy="284.60" r="2" fill="#4BB6D4"/>
<circle cx="462.00" cy="291.50" r="2" fill="#4BB6D4"/>
<circle cx="466.90" cy="298.70" r="2" fill="#4BB6D4"/>
<circle cx="471.50" cy="310.80" r="2" fill="#4BB6D4"/>
<circle cx="470.20" cy="314.40" r="2" fill="#4BB6D4"/>
<text x="478.80" y="204.40" font-size="6.1" text-anchor="middle" font-weight="bold" fill="#222" >PCoA on Phylum level</text>
<text x="478.80" y="209.30" font-size="4.5" text-anchor="middle" font-weight="normal" fill="#3a3a3a" >R=0.6333, P=0.000000</text>
<rect x="515.30" y="193.30" width="8.20" height="7.40" fill="#E44A33"/>
<rect x="515.30" y="205.20" width="8.20" height="7.60" fill="#4BB6D4"/>
<text x="525.40" y="199.30" font-size="8.1" text-anchor="start" font-weight="normal" fill="#222" >CON</text>
<text x="525.40" y="211.30" font-size="8.1" text-anchor="start" font-weight="normal" fill="#222" >EO200</text>
<text x="466.60" y="362.50" font-size="5.5" text-anchor="middle" font-weight="bold" fill="#222" >PC1(75.27%)</text>
<text transform="translate(372.00,283.20) rotate(-90)" x="0" y="0" font-size="5.2" text-anchor="middle" font-weight="bold" fill="#222">PC2(14.46%)</text>
<text transform="translate(562.40,201.30) scale(0.95,1)" x="0" y="0" font-size="15.8" text-anchor="start" font-weight="normal" fill="#000" stroke="#000" stroke-width="0.25">H</text>
<line x1="636.50" y1="220.00" x2="636.50" y2="348.40" stroke="#a8a8a8" stroke-width="1" stroke-dasharray="1 1"/>
<line x1="573.00" y1="296.50" x2="720.00" y2="296.50" stroke="#a8a8a8" stroke-width="1" stroke-dasharray="1 1"/>
<line x1="573.00" y1="220.40" x2="720.60" y2="220.40" stroke="#c8c8c8" stroke-width="1.3" />
<line x1="720.00" y1="219.80" x2="720.00" y2="349.00" stroke="#aaa" stroke-width="1.3" />
<line x1="573.00" y1="348.40" x2="720.60" y2="348.40" stroke="#666" stroke-width="1.25" />
<line x1="573.60" y1="219.80" x2="573.60" y2="349.00" stroke="#5a5a5a" stroke-width="1.35" />
<line x1="571.60" y1="220.10" x2="573.60" y2="220.10" stroke="#999" stroke-width="0.8" />
<text x="570.30" y="222.30" font-size="4.8" text-anchor="end" font-weight="normal" fill="#222" >30000</text>
<line x1="571.60" y1="245.70" x2="573.60" y2="245.70" stroke="#999" stroke-width="0.8" />
<text x="570.30" y="247.90" font-size="4.8" text-anchor="end" font-weight="normal" fill="#222" >20000</text>
<line x1="571.60" y1="271.30" x2="573.60" y2="271.30" stroke="#999" stroke-width="0.8" />
<text x="570.30" y="273.50" font-size="4.8" text-anchor="end" font-weight="normal" fill="#222" >10000</text>
<line x1="571.60" y1="296.90" x2="573.60" y2="296.90" stroke="#999" stroke-width="0.8" />
<text x="570.30" y="299.10" font-size="4.8" text-anchor="end" font-weight="normal" fill="#222" >0</text>
<line x1="571.60" y1="322.50" x2="573.60" y2="322.50" stroke="#999" stroke-width="0.8" />
<text x="570.30" y="324.70" font-size="4.8" text-anchor="end" font-weight="normal" fill="#222" >-10000</text>
<line x1="571.60" y1="348.10" x2="573.60" y2="348.10" stroke="#999" stroke-width="0.8" />
<text x="570.30" y="350.30" font-size="4.8" text-anchor="end" font-weight="normal" fill="#222" >-20000</text>
<line x1="574.00" y1="348.40" x2="574.00" y2="350.40" stroke="#999" stroke-width="0.8" />
<text x="574.00" y="355.20" font-size="4.8" text-anchor="middle" font-weight="normal" fill="#222" >-15000</text>
<line x1="594.80" y1="348.40" x2="594.80" y2="350.40" stroke="#999" stroke-width="0.8" />
<text x="594.80" y="355.20" font-size="4.8" text-anchor="middle" font-weight="normal" fill="#222" >-10000</text>
<line x1="615.60" y1="348.40" x2="615.60" y2="350.40" stroke="#999" stroke-width="0.8" />
<text x="615.60" y="355.20" font-size="4.8" text-anchor="middle" font-weight="normal" fill="#222" >-5000</text>
<line x1="636.40" y1="348.40" x2="636.40" y2="350.40" stroke="#999" stroke-width="0.8" />
<text x="636.40" y="355.20" font-size="4.8" text-anchor="middle" font-weight="normal" fill="#222" >0</text>
<line x1="657.20" y1="348.40" x2="657.20" y2="350.40" stroke="#999" stroke-width="0.8" />
<text x="657.20" y="355.20" font-size="4.8" text-anchor="middle" font-weight="normal" fill="#222" >5000</text>
<line x1="678.00" y1="348.40" x2="678.00" y2="350.40" stroke="#999" stroke-width="0.8" />
<text x="678.00" y="355.20" font-size="4.8" text-anchor="middle" font-weight="normal" fill="#222" >10000</text>
<line x1="698.80" y1="348.40" x2="698.80" y2="350.40" stroke="#999" stroke-width="0.8" />
<text x="698.80" y="355.20" font-size="4.8" text-anchor="middle" font-weight="normal" fill="#222" >15000</text>
<line x1="719.60" y1="348.40" x2="719.60" y2="350.40" stroke="#999" stroke-width="0.8" />
<text x="719.60" y="355.20" font-size="4.8" text-anchor="middle" font-weight="normal" fill="#222" >20000</text>
<ellipse cx="605.51" cy="295.59" rx="46.93" ry="8.30" transform="rotate(-86.54 605.51 295.59)" fill="none" stroke="#4BB6D4" stroke-width="0.55" stroke-opacity="0.8"/>
<ellipse cx="668.10" cy="297.85" rx="32.82" ry="8.59" transform="rotate(-25.68 668.10 297.85)" fill="none" stroke="#E44A33" stroke-width="0.55" stroke-opacity="0.8"/>
<circle cx="653.60" cy="301.00" r="2" fill="#E44A33"/>
<circle cx="661.80" cy="304.00" r="2" fill="#E44A33"/>
<circle cx="667.70" cy="299.60" r="2" fill="#E44A33"/>
<circle cx="671.10" cy="295.80" r="2" fill="#E44A33"/>
<circle cx="673.90" cy="291.70" r="2" fill="#E44A33"/>
<circle cx="677.70" cy="293.40" r="2" fill="#E44A33"/>
<circle cx="605.90" cy="284.60" r="2" fill="#4BB6D4"/>
<circle cx="609.30" cy="283.80" r="2" fill="#4BB6D4"/>
<circle cx="604.40" cy="292.50" r="2" fill="#4BB6D4"/>
<circle cx="602.40" cy="296.20" r="2" fill="#4BB6D4"/>
<circle cx="602.10" cy="302.90" r="2" fill="#4BB6D4"/>
<circle cx="605.90" cy="320.90" r="2" fill="#4BB6D4"/>
<text x="655.80" y="207.60" font-size="6.1" text-anchor="middle" font-weight="bold" fill="#222" >PCoA on Genus level</text>
<text x="655.80" y="212.20" font-size="4.5" text-anchor="middle" font-weight="normal" fill="#3a3a3a" >R=0.9796, P=0.000008</text>
<rect x="688.00" y="193.30" width="8.20" height="7.40" fill="#E44A33"/>
<rect x="688.00" y="205.20" width="8.20" height="7.60" fill="#4BB6D4"/>
<text x="698.10" y="199.30" font-size="8.1" text-anchor="start" font-weight="normal" fill="#222" >CON</text>
<text x="698.10" y="211.30" font-size="8.1" text-anchor="start" font-weight="normal" fill="#222" >EO200</text>
<text x="647.20" y="361.10" font-size="5.5" text-anchor="middle" font-weight="bold" fill="#222" >PC1(76.21%)</text>
<text transform="translate(553.60,284.00) rotate(-90)" x="0" y="0" font-size="5.2" text-anchor="middle" font-weight="bold" fill="#222">PC2(17.56%)</text>
<line x1="294.60" y1="0.00" x2="294.60" y2="1.90" stroke="#444" stroke-width="1" />
<circle cx="484.4" cy="3.5" r="0.6" fill="#555"/>
</svg></body></html>
